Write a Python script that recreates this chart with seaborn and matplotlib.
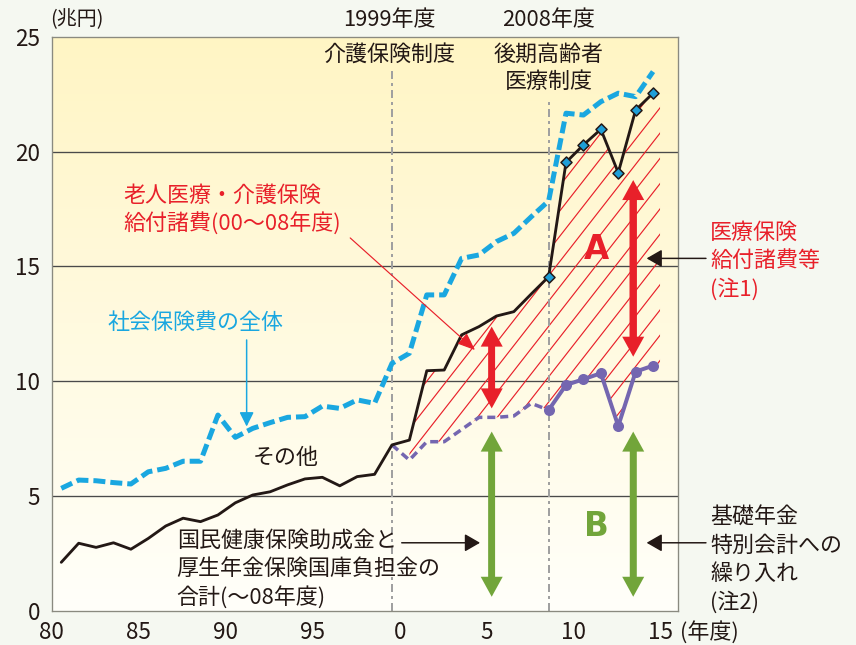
import numpy as np
import matplotlib
matplotlib.use("Agg")
import matplotlib.pyplot as plt
import seaborn as sns
from matplotlib.colors import to_rgb
from matplotlib.collections import LineCollection

# fiscal years and values (兆円)
years = np.arange(1980, 2015)
social_total = [5.34, 5.70, 5.67, 5.59, 5.53, 6.06, 6.21, 6.52, 6.52, 8.53,
                7.56, 7.95, 8.20, 8.43, 8.46, 8.92, 8.82, 9.19, 9.04, 10.78,
                11.22, 13.76, 13.76, 15.35, 15.50, 16.08, 16.44, 17.16, 17.85,
                21.67, 21.59, 22.17, 22.54, 22.39, 23.48]
medical = [2.12, 2.95, 2.77, 2.97, 2.69, 3.16, 3.70, 4.04, 3.89, 4.18,
           4.71, 5.05, 5.19, 5.49, 5.75, 5.82, 5.45, 5.85, 5.95, 7.23,
           7.44, 10.46, 10.49, 12.02, 12.38, 12.84, 13.03, 13.80, 14.55,
           19.53, 20.29, 20.97, 19.08, 21.81, 22.54]
years_b = np.arange(1999, 2015)
pension = [7.23, 6.57, 7.37, 7.37, 7.90, 8.43, 8.43, 8.49, 9.04, 8.75,
           9.84, 10.09, 10.35, 8.05, 10.42, 10.68]

xticks = [1980, 1985, 1990, 1995, 2000, 2005, 2010, 2015]
xticklabels = ["80", "85", "90", "95", "0", "5", "10", "15"]
yticks = [0, 5, 10, 15, 20, 25]

BG = "#F5F8F1"
CYAN = "#1AA7E0"
BLACK = "#231815"
PURPLE = "#7466B0"
RED = "#E8202A"
GREEN = "#72A53A"
GRAY = "#A0A0A0"

sns.set_theme(style="white")
plt.rcParams["font.family"] = ["Noto Sans CJK JP", "DejaVu Sans"]

fig = plt.figure(figsize=(856 / 120, 645 / 120), dpi=120, facecolor=BG)
ax = fig.add_axes([0.0604, 0.0527, 0.7320, 0.8904])

# yellow -> white background
g = np.linspace(0, 1, 256)[:, None, None]
img = (1 - g) * np.array(to_rgb("#FFF5C4")) + g * np.array(to_rgb("#FFFFFA"))
ax.imshow(img, extent=[0, 1, 0, 1], transform=ax.transAxes, aspect="auto",
          origin="upper", zorder=0)

for yv in yticks[1:-1]:
    ax.axhline(yv, color="#4a4a4a", lw=0.8, zorder=1)

x_all = years + 0.55
x_b = years_b + 0.55

# hatched area A (between medical total and pension part), hatch drawn by hand
xh = np.append(x_b[1:], x_b[-1] + 0.4)
top_h = np.append(medical[20:], medical[-1])
bot_h = np.append(pension[1:], pension[-1])
area = ax.fill_between(xh, bot_h, top_h, facecolor="none", linewidth=0)
clip = area.get_paths()[0]
slope = 0.97
offs = np.arange(-30, 45, 1.10)
segs = [[(1996, slope * (1996 - 2000) + c), (2018, slope * (2018 - 2000) + c)]
        for c in offs]
hatch = LineCollection(segs, colors=RED, linewidths=0.7, zorder=1.5)
ax.add_collection(hatch, autolim=False)
hatch.set_clip_path(clip, ax.transData)

# period markers
ax.axvline(1999.55, ymax=23.55 / 25, color=GRAY, lw=1.2,
           linestyle=(0, (4, 2, 1.5, 2)), zorder=1.6)
ax.axvline(2008.55, ymax=22.3 / 25, color=GRAY, lw=1.2,
           linestyle=(0, (4, 2, 1.5, 2)), zorder=1.6)

sns.lineplot(x=x_all, y=social_total, ax=ax, color=CYAN, lw=3,
             linestyle=(0, (2.4, 1.0)), estimator=None, zorder=3)
sns.lineplot(x=x_all, y=medical, ax=ax, color=BLACK, lw=1.7,
             estimator=None, zorder=4)
sns.scatterplot(x=x_all[28:], y=medical[28:], ax=ax, marker="D", s=22,
                color="#1E9FD8", edgecolor=BLACK, linewidth=0.9, zorder=5)
sns.lineplot(x=x_b[:10], y=pension[:10], ax=ax, color=PURPLE, lw=2.1,
             linestyle=(0, (2.3, 1.4)), estimator=None, zorder=3)
sns.lineplot(x=x_b[9:], y=pension[9:], ax=ax, color=PURPLE, lw=2.4,
             estimator=None, zorder=3)
sns.scatterplot(x=x_b[9:], y=pension[9:], ax=ax, s=44, color=PURPLE,
                linewidth=0, zorder=5)

ax.set_xlim(1980, 2016)
ax.set_ylim(0, 25)
ax.set_xticks(xticks)
ax.set_xticklabels(xticklabels)
ax.set_yticks(yticks)
ax.set_xlabel("")
ax.set_ylabel("")
ax.tick_params(axis="x", direction="in", length=3, width=0.8, color="#888888",
               labelsize=13.5, pad=6, labelcolor="#231815")
ax.tick_params(axis="y", length=0, labelsize=13.5, pad=7, labelcolor="#231815")
for s in ax.spines.values():
    s.set_color("#8a8a80")
    s.set_linewidth(0.8)


def double_arrow(x, y0, y1, color, tail=0.2):
    # two full-length arrows, each tail starting at the base of the other head
    style = f"simple,head_length=0.6,head_width=0.66,tail_width={tail}"
    for tip, start in ((y0, y1), (y1, y0)):
        ax.annotate("", xy=(x, tip), xytext=(x, start),
                    arrowprops=dict(arrowstyle=style, mutation_scale=20, fc=color,
                                    ec="none", lw=0, shrinkA=10, shrinkB=0,
                                    patchA=None),
                    zorder=6)


def thin_arrow(xy, xytext, color, hl, hw, lw):
    ax.annotate("", xy=xy, xytext=xytext,
                arrowprops=dict(arrowstyle=f"-|>,head_length={hl},head_width={hw}",
                                mutation_scale=20, color=color, lw=lw,
                                shrinkA=0, shrinkB=0, patchA=None),
                zorder=6, annotation_clip=False)


double_arrow(2005.28, 12.38, 8.82, RED)
double_arrow(2013.41, 18.76, 11.07, RED, tail=0.21)
double_arrow(2005.28, 7.81, 0.62, GREEN)
double_arrow(2013.41, 7.81, 0.62, GREEN)

thin_arrow((1991.2, 8.03), (1991.2, 11.8), CYAN, 0.36, 0.18, 0.9)
thin_arrow((2004.32, 11.36), (1997.15, 16.24), RED, 0.45, 0.18, 0.7)
thin_arrow((2004.61, 2.97), (2000.11, 2.97), BLACK, 0.39, 0.225, 0.9)
thin_arrow((2014.18, 15.35), (2017.59, 15.35), BLACK, 0.39, 0.225, 0.9)
thin_arrow((2014.18, 2.97), (2017.59, 2.97), BLACK, 0.39, 0.225, 0.9)

fs = 13.2
tc = "#231815"
ax.text(1979.9, 25.73, "(兆円)", fontsize=12, color=tc, ha="left", va="center")
ax.text(1999.38, 25.73, "1999年度", fontsize=fs, color=tc, ha="center", va="center")
ax.text(1999.41, 24.2, "介護保険制度", fontsize=fs, color=tc, ha="center", va="center")
ax.text(2008.57, 25.73, "2008年度", fontsize=fs, color=tc, ha="center", va="center")
ax.text(2008.57, 24.2, "後期高齢者", fontsize=fs, color=tc, ha="center", va="center")
ax.text(2008.57, 23.03, "医療制度", fontsize=fs, color=tc, ha="center", va="center")
ax.text(1984.1, 18.55, "老人医療・介護保険\n給付諸費(00〜08年度)", fontsize=fs,
        color=RED, ha="left", va="top", linespacing=1.35)
ax.text(1983.23, 12.54, "社会保険費の全体", fontsize=fs, color=CYAN,
        ha="left", va="center")
ax.text(1993.46, 6.66, "その他", fontsize=fs, color=tc, ha="center", va="center")
ax.text(1987.18, 3.53, "国民健康保険助成金と\n厚生年金保険国庫負担金の\n合計(〜08年度)",
        fontsize=fs, color=tc, ha="left", va="top", linespacing=1.35)
ax.text(2017.82, 16.93, "医療保険\n給付諸費等\n(注1)", fontsize=fs, color=RED,
        ha="left", va="top", linespacing=1.35)
ax.text(2017.82, 4.53, "基礎年金\n特別会計への\n繰り入れ\n(注2)", fontsize=fs,
        color=tc, ha="left", va="top", linespacing=1.35)
ax.text(2011.31, 15.72, "A", fontsize=19.5, color=RED, fontweight="bold",
        family="DejaVu Sans", ha="center", va="center", zorder=7)
ax.text(2011.31, 3.67, "B", fontsize=19.5, color=GREEN, fontweight="bold",
        family="DejaVu Sans", ha="center", va="center", zorder=7)
ax.text(2016.1, -0.91, "(年度)", fontsize=fs, color=tc, ha="left", va="center")

fig.savefig("out.png", dpi=120, facecolor=BG)
